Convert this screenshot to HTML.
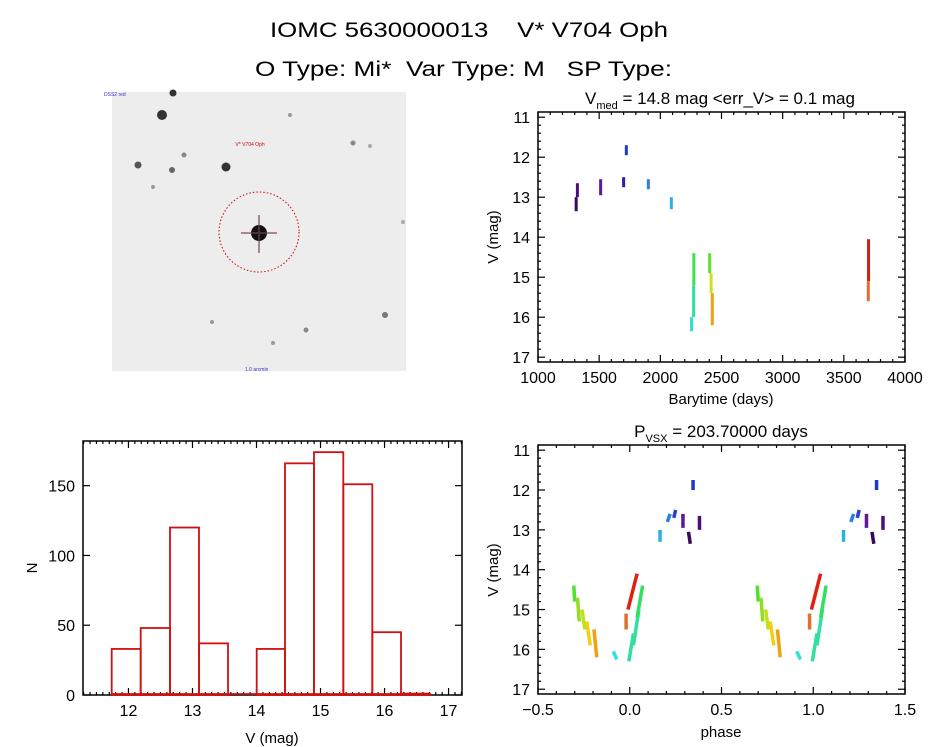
<!DOCTYPE html>
<html><head><meta charset="utf-8"><style>
html,body{margin:0;padding:0;background:#fff;}
svg{display:block;font-family:"Liberation Sans",sans-serif;}
text{white-space:pre;}
</style></head><body>
<svg id="s" width="944" height="747" xmlns="http://www.w3.org/2000/svg" xml:space="preserve">
<rect width="944" height="747" fill="#fff"/>
<text x="270" y="37" font-size="21" textLength="398" lengthAdjust="spacingAndGlyphs">IOMC 5630000013    V* V704 Oph</text>
<text x="255" y="76" font-size="21" textLength="417" lengthAdjust="spacingAndGlyphs">O Type: Mi*  Var Type: M   SP Type:</text>
<!-- sky image -->
<rect x="112" y="92" width="294" height="279" fill="#ededed"/>
<g fill="#333">
<circle cx="162" cy="115" r="5"/><circle cx="173" cy="93" r="3.5"/><circle cx="226" cy="167" r="4.5"/>
<circle cx="138" cy="165" r="3.5" fill="#555"/><circle cx="172" cy="170" r="3" fill="#666"/>
<circle cx="184" cy="155" r="2.5" fill="#888"/><circle cx="153" cy="187" r="2" fill="#999"/>
<circle cx="290" cy="115" r="2" fill="#999"/><circle cx="353" cy="143" r="2.5" fill="#888"/>
<circle cx="370" cy="146" r="2" fill="#aaa"/><circle cx="385" cy="315" r="3" fill="#777"/>
<circle cx="306" cy="330" r="2.5" fill="#888"/><circle cx="212" cy="322" r="2" fill="#999"/>
<circle cx="273" cy="343" r="2" fill="#999"/><circle cx="403" cy="222" r="2" fill="#aaa"/>
<circle cx="259" cy="233" r="8" fill="#111"/>
</g>
<path d="M241 233h36M259 215v38" stroke="#745" stroke-width="2" opacity="0.6"/>
<circle cx="259" cy="232" r="40" fill="none" stroke="#c00" stroke-width="1" stroke-dasharray="1.5,2"/>
<text x="250" y="146" font-size="5" fill="#c00" text-anchor="middle">V* V704 Oph</text>
<text x="104" y="96" font-size="5" fill="#33c">DSS2 red</text>
<text x="245" y="371" font-size="5" fill="#33c">1.0 arcmin</text>
<g id="g"></g>
<g font-size="15">
<text x="720" y="104" text-anchor="middle" font-size="17">V<tspan font-size="11" dy="5">med</tspan><tspan dy="-5"> = 14.8 mag &lt;err_V&gt; = 0.1 mag</tspan></text>
<text x="721" y="404" text-anchor="middle">Barytime (days)</text>
<text x="721" y="437" text-anchor="middle" font-size="17">P<tspan font-size="11" dy="5">VSX</tspan><tspan dy="-5"> = 203.70000 days</tspan></text>
<text x="721" y="737" text-anchor="middle">phase</text>
<text transform="translate(498,237) rotate(-90)" text-anchor="middle">V (mag)</text>
<text transform="translate(498,570) rotate(-90)" text-anchor="middle">V (mag)</text>
<text transform="translate(37,568) rotate(-90)" text-anchor="middle">N</text>
<text x="272" y="743" text-anchor="middle">V (mag)</text>
</g>
</svg>
<script>
var g=document.getElementById('g'),NS='http://www.w3.org/2000/svg';
function el(t,a,txt){var e=document.createElementNS(NS,t);for(var k in a)e.setAttribute(k,a[k]);if(txt!=null)e.textContent=txt;g.appendChild(e);return e;}
function line(x1,y1,x2,y2,c,w){el('line',{x1:x1,y1:y1,x2:x2,y2:y2,stroke:c||'#000','stroke-width':w||1});}
function axes(L,T,R,B,xmin,xmax,ymin,ymax,yinv,xmaj,xmin_,ymaj,ymin_,xfmt,yfmt,ticksides){
  el('rect',{x:L,y:T,width:R-L,height:B-T,fill:'none',stroke:'#000','stroke-width':1.5});
  var fx=function(v){return L+(v-xmin)/(xmax-xmin)*(R-L);};
  var fy=function(v){return yinv? T+(v-ymin)/(ymax-ymin)*(B-T) : B-(v-ymin)/(ymax-ymin)*(B-T);};
  var s=Math.ceil(xmin/xmin_-1e-9);
  for(var v=s*xmin_;v<=xmax+1e-9;v+=xmin_){var x=fx(v);var maj=Math.abs(v/xmaj-Math.round(v/xmaj))<1e-6;var l=maj?7:3;
    line(x,B,x,B-l,'#000',1.2);line(x,T,x,T+l,'#000',1.2);
    if(maj){el('text',{x:x,y:B+21,'font-size':16,'text-anchor':'middle'},xfmt(v));}}
  s=Math.ceil(ymin/ymin_-1e-9);
  for(var v=s*ymin_;v<=ymax+1e-9;v+=ymin_){var y=fy(v);var maj=Math.abs(v/ymaj-Math.round(v/ymaj))<1e-6;var l=maj?7:3;
    if(ticksides!='maj'||maj){line(L,y,L+l,y,'#000',1.2);line(R,y,R-l,y,'#000',1.2);}
    if(maj){el('text',{x:L-8,y:y+6,'font-size':16,'text-anchor':'end'},yfmt(v));}}
  return [fx,fy];
}
var a=axes(538,112,905,362,1000,4000,10.87,17.12,true,500,100,1,0.2,function(v){return v.toFixed(0)},function(v){return v.toFixed(0)});
var fx=a[0],fy=a[1];
var lc=[[1312,13.0,13.35,'#3a0a5a'],[1322,12.65,13.0,'#4b0f7a'],[1512,12.55,12.95,'#5a1a9a'],[1700,12.5,12.75,'#2a1aaa'],
[1722,11.7,11.95,'#1a3ad0'],[1902,12.55,12.8,'#2a80e0'],[2090,13.0,13.3,'#30b0e0'],[2255,16.0,16.35,'#30e0d0'],
[2272,15.2,16.0,'#30e0a0'],[2274,14.4,15.2,'#40e050'],[2403,14.4,14.9,'#60e030'],[2415,14.9,15.4,'#d0e020'],[2425,15.4,16.2,'#f0a010'],
[3702,14.05,15.1,'#d02010'],[3700,15.1,15.6,'#e07030']];
lc.forEach(function(d){line(fx(d[0]),fy(d[1]),fx(d[0]),fy(d[2]),d[3],3);});
a=axes(538,445,905,694,-0.5,1.5,10.87,17.12,true,0.5,0.1,1,0.2,function(v){return (Math.abs(v)<1e-9?0:v).toFixed(1).replace('-','\u2212')},function(v){return v.toFixed(0)});
fx=a[0];fy=a[1];
var ph=[[-0.305,-0.30,14.4,14.8,'#50e030'],[-0.285,-0.275,14.7,15.3,'#90e020'],[-0.26,-0.245,15.0,15.5,'#c0e020'],
[-0.235,-0.215,15.3,15.9,'#f0d010'],[-0.195,-0.18,15.5,16.2,'#f0a010'],[-0.09,-0.07,16.05,16.25,'#30e0e0'],
[-0.02,-0.02,15.1,15.5,'#e07030'],[-0.01,0.04,15.0,14.1,'#e02010'],[-0.005,0.02,16.3,15.6,'#30e0a0'],[0.02,0.05,15.9,15.0,'#30e0a0'],
[0.04,0.07,15.2,14.4,'#30e060'],[0.165,0.165,13.0,13.3,'#30b0e0'],[0.205,0.22,12.8,12.6,'#2a80e0'],[0.24,0.25,12.7,12.5,'#2a40d0'],
[0.29,0.29,12.6,12.95,'#5a1a9a'],[0.32,0.33,13.05,13.35,'#3a0a5a'],[0.345,0.345,11.75,12.0,'#1a3ad0'],[0.38,0.38,12.65,13.0,'#4b0f7a']];
[0,1].forEach(function(o){ph.forEach(function(d){line(fx(d[0]+o),fy(d[2]),fx(d[1]+o)+0.01,fy(d[3]),d[4],3.5);});});
a=axes(83,441,462,695,11.29,17.21,0,182,false,1,0.1,50,50,function(v){return v.toFixed(0)},function(v){return v.toFixed(0)},'maj');
fx=a[0];fy=a[1];
var e=[111.7,140.7,170,199,228,256.7,285,314,343.3,372.3,401,430],h=[33,48,120,37,0,33,166,174,151,45,1];
for(var i=0;i<h.length;i++){if(h[i]>0)el('rect',{x:e[i],y:fy(h[i]),width:e[i+1]-e[i],height:695-fy(h[i]),fill:'none',stroke:'#d01010','stroke-width':1.8});}
line(111.7,694,430,694,'#d01010',1.8);
</script>
</body></html>
